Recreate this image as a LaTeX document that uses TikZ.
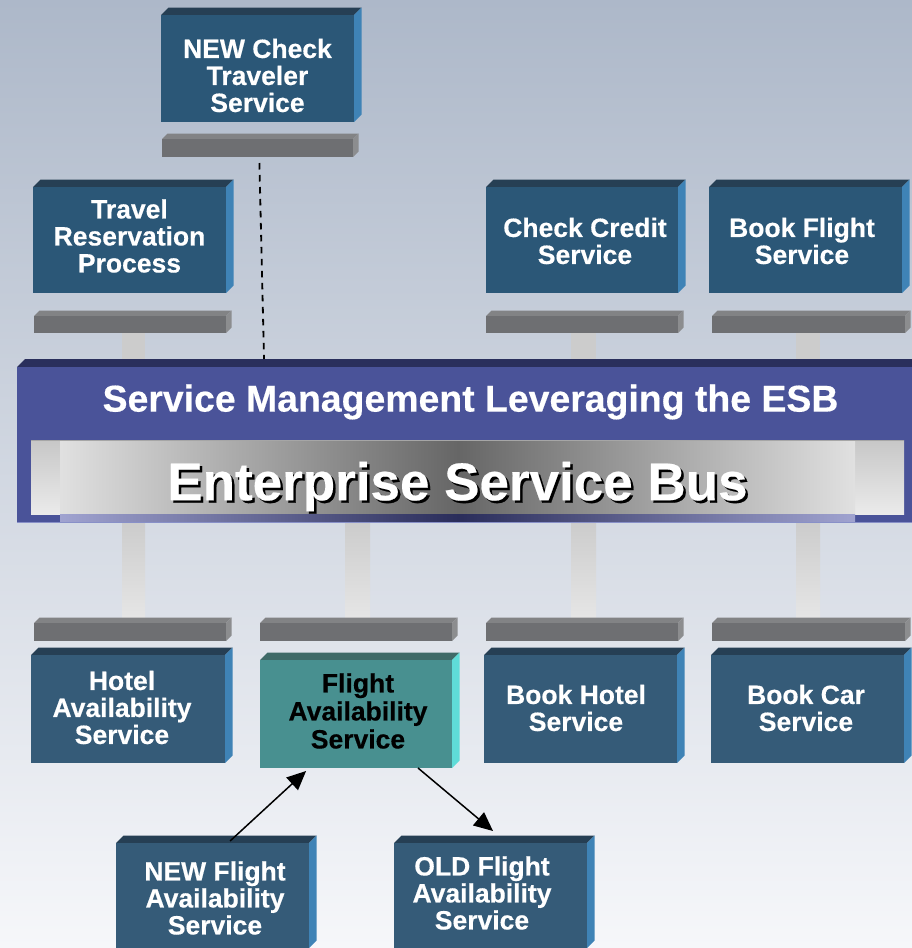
\documentclass[tikz,border=0pt]{standalone}
\usepackage{fontspec}
\setmainfont{Liberation Sans}[BoldFeatures={FakeBold=0.4}]
\usetikzlibrary{calc,arrows.meta}
\definecolor{upfront}{HTML}{2B5777}
\definecolor{lowfront}{HTML}{355B78}
\definecolor{boxtop}{HTML}{263F54}
\definecolor{boxright}{HTML}{3F83B6}
\definecolor{tealfront}{HTML}{489090}
\definecolor{tealtop}{HTML}{3F6A68}
\definecolor{tealright}{HTML}{5FDCD8}
\definecolor{barfront}{HTML}{6E6F72}
\definecolor{bartop}{HTML}{828385}
\definecolor{barright}{HTML}{8C8D8F}
\definecolor{busfront}{HTML}{4A5399}
\definecolor{bustop}{HTML}{2A2F5C}
\definecolor{busedge}{HTML}{8890C8}
\definecolor{bgtop}{HTML}{ADB8C9}
\definecolor{bgbottom}{HTML}{F6F7FA}
\definecolor{striplight}{HTML}{A0A3D0}
\definecolor{stripdark}{HTML}{2A2D5A}
\tikzset{
  x=1pt,y=-1pt,
  frontnode/.style={inner sep=0pt,outer sep=0pt,anchor=north west},
  boxlabel/.style={font=\fontsize{26.5}{27}\selectfont\bfseries,align=center,inner sep=0pt,text=white},
  flow/.style={-{Triangle[length=19pt,width=17pt]},line width=1.5pt,black},
}
% name, x0,y0,x1,y1, depth, front colour, top colour, right colour
\newcommand{\blockshape}[9]{%
  \fill[#8] (#2,#3) -- (#2+#6,#3-#6) -- (#4+#6,#3-#6) -- (#4,#3) -- cycle;
  \fill[#9] (#4,#3) -- (#4+#6,#3-#6) -- (#4+#6,#5-#6) -- (#4,#5) -- cycle;
  \node[frontnode,fill=#7,minimum width=#4pt-#2pt,minimum height=#5pt-#3pt] (#1) at (#2,#3) {};
}
\newcommand{\svcupper}[8]{%
  \blockshape{#1}{#2}{#3}{#4}{#5}{7.5}{upfront}{boxtop}{boxright}
  \node[boxlabel] (#1t) at (#6,#7) {#8};
}
\newcommand{\svclower}[8]{%
  \blockshape{#1}{#2}{#3}{#4}{#5}{7.5}{lowfront}{boxtop}{boxright}
  \node[boxlabel] (#1t) at (#6,#7) {#8};
}
\newcommand{\portbar}[5]{%
  \blockshape{#1}{#2}{#3}{#4}{#5}{5.5}{barfront}{bartop}{barright}
}
\begin{document}
\begin{tikzpicture}
\useasboundingbox (0,0) rectangle (912,948);
\shade[top color=bgtop,bottom color=bgbottom] (0,0) rectangle (912,948);

% pillars above the bus
\fill[black!20] (122,333) rectangle (145,360);
\fill[black!20] (571,333) rectangle (596,360);
\fill[black!20] (796,333) rectangle (820,360);
% pillars below the bus
\shade[top color=black!20,bottom color=black!10] (122,522) rectangle (145,618);
\shade[top color=black!20,bottom color=black!10] (345,522) rectangle (370,618);
\shade[top color=black!20,bottom color=black!10] (571,522) rectangle (596,618);
\shade[top color=black!20,bottom color=black!10] (796,522) rectangle (820,618);

% upper services
\svcupper{ncheck}{161}{15}{354}{122}{257.5}{75.5}{NEW Check\\Traveler\\Service}
\portbar{ncheckbar}{162}{139}{353}{157}
\svcupper{travel}{33}{187}{226}{293}{129.5}{236}{Travel\\Reservation\\Process}
\portbar{travelbar}{34}{316}{226}{333}
\svcupper{credit}{486}{187}{678}{293}{585}{241}{Check Credit\\Service}
\portbar{creditbar}{486}{316}{678}{333}
\svcupper{bookflight}{709}{187}{902}{293}{802}{241}{Book Flight\\Service}
\portbar{bookflightbar}{712}{316}{905}{333}

% bus
\blockshape{bus}{17}{367}{912}{522}{8}{busfront}{bustop}{busfront}
\draw[line width=.8pt,busedge] (bus.south west) -- (bus.south east);
\shade[top color=black!22,bottom color=black!8] (31,440) rectangle (904,514);
\draw[black!35,line width=.6pt] (31,440.3) -- (904,440.3);
\shade[left color=black!12,right color=black!60] (60,441) rectangle (458,514);
\shade[left color=black!60,right color=black!12] (458,441) rectangle (855,514);
\shade[left color=striplight,right color=stripdark] (60,514) rectangle (458,521);
\shade[left color=stripdark,right color=striplight] (458,514) rectangle (855,521);
\node[font=\fontsize{37.4}{38}\selectfont\bfseries,text=white,inner sep=0pt] (mgmt) at (470.5,402) {Service Management Leveraging the ESB};
\node[font=\fontsize{53}{55}\selectfont\bfseries,text=black,inner sep=0pt] (esbshadow) at (460,489) {Enterprise Service Bus};
\node[font=\fontsize{53}{55}\selectfont\bfseries,text=white,inner sep=0pt] (esb) at (457.5,486.5) {Enterprise Service Bus};

% lower services
\portbar{hotelbar}{34}{623}{226}{641}
\portbar{flightbar}{260}{623}{452}{641}
\portbar{bhotelbar}{486}{623}{678}{641}
\portbar{carbar}{712}{623}{905}{641}
\svclower{hotel}{31}{655}{225}{763}{122}{707.5}{Hotel\\Availability\\Service}
\blockshape{flight}{260}{660}{452}{768}{7.5}{tealfront}{tealtop}{tealright}
\node[boxlabel,text=black,font=\fontsize{26.5}{28}\selectfont\bfseries] (flightt) at (358,711) {Flight\\Availability\\Service};
\svclower{bhotel}{484}{655}{677}{763}{576}{708}{Book Hotel\\Service}
\svclower{car}{711}{655}{904}{763}{806}{708}{Book Car\\Service}
\svclower{nflight}{116}{843}{309}{948}{215}{898}{NEW Flight\\Availability\\Service}
\svclower{oflight}{394}{843}{587}{948}{482}{893}{OLD Flight\\Availability\\Service}

% connectors
\draw[flow] ($(nflight.north west)!0.591!(nflight.north east)+(0,-2)$) -- ($(flight.south west)!0.24!(flight.south east)+(0,3)$);
\draw[flow] ($(flight.south west)!0.823!(flight.south east)$) -- ($(oflight.north west)!0.513!(oflight.north east)+(0,-12)$);
\draw[line width=1.8pt,black,dash pattern=on 6.5pt off 5.5pt] ($(ncheckbar.south west)!0.51!(ncheckbar.south east)+(0,6)$) -- ($(bus.north west)!0.276!(bus.north east)+(0,-8)$);
\end{tikzpicture}
\end{document}
